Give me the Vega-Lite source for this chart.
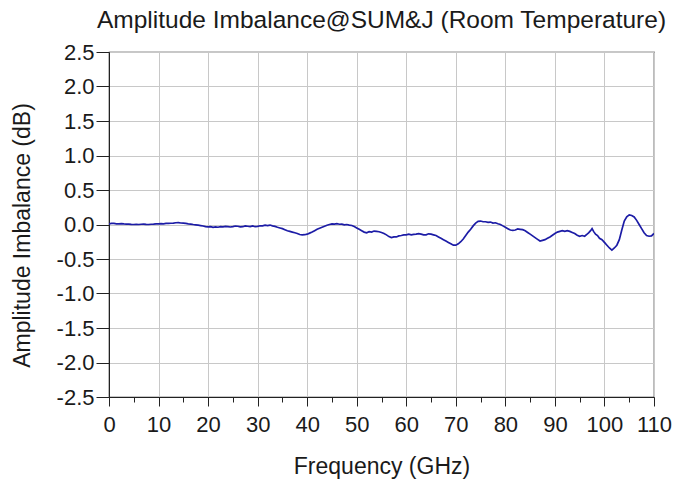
{
  "$schema": "https://vega.github.io/schema/vega-lite/v6.json",
  "autosize": "none",
  "width": 545,
  "height": 345,
  "padding": {"left": 109, "top": 52, "right": 20, "bottom": 91},
  "background": "white",
  "title": {"text": "Amplitude Imbalance@SUM&J (Room Temperature)", "font": "Liberation Sans", "fontSize": 24.5, "fontWeight": "normal", "color": "#1a1a1a", "offset": 8, "anchor": "middle"},
  "config": {
    "view": {"stroke": "#222", "strokeWidth": 1.2},
    "axis": {"labelFont": "Liberation Sans", "titleFont": "Liberation Sans", "labelColor": "#1a1a1a", "titleColor": "#1a1a1a", "titleFontWeight": "normal", "domainColor": "#222", "tickColor": "#222", "gridColor": "#c8c8c8", "gridWidth": 1}
  },
  "data": {"values": [
    {"f": 0, "v": 0.01}, {"f": 0.5, "v": 0.015}, {"f": 1, "v": 0.015}, {"f": 1.5, "v": 0.01}, {"f": 2, "v": 0.01}, {"f": 2.5, "v": 0.012}, {"f": 3, "v": 0.008}, {"f": 3.5, "v": 0.006}, {"f": 4, "v": 0.005}, {"f": 4.5, "v": 0.002},
    {"f": 5, "v": 0.0}, {"f": 5.5, "v": 0.003}, {"f": 6, "v": 0.0}, {"f": 6.5, "v": 0.004}, {"f": 7, "v": 0.005}, {"f": 7.5, "v": 0.001}, {"f": 8, "v": 0.0}, {"f": 8.5, "v": 0.004}, {"f": 9, "v": 0.005}, {"f": 9.5, "v": 0.008},
    {"f": 10, "v": 0.01}, {"f": 10.5, "v": 0.012}, {"f": 11, "v": 0.01}, {"f": 11.5, "v": 0.015}, {"f": 12, "v": 0.015}, {"f": 12.5, "v": 0.018}, {"f": 13, "v": 0.02}, {"f": 13.5, "v": 0.025}, {"f": 14, "v": 0.028}, {"f": 14.5, "v": 0.022},
    {"f": 15, "v": 0.02}, {"f": 15.5, "v": 0.015}, {"f": 16, "v": 0.01}, {"f": 16.5, "v": 0.006}, {"f": 17, "v": 0.0}, {"f": 17.5, "v": -0.005}, {"f": 18, "v": -0.01}, {"f": 18.5, "v": -0.016}, {"f": 19, "v": -0.022}, {"f": 19.5, "v": -0.03},
    {"f": 20, "v": -0.035}, {"f": 20.5, "v": -0.03}, {"f": 21, "v": -0.04}, {"f": 21.5, "v": -0.035}, {"f": 22, "v": -0.04}, {"f": 22.5, "v": -0.032}, {"f": 23, "v": -0.035}, {"f": 23.5, "v": -0.028}, {"f": 24, "v": -0.03}, {"f": 24.5, "v": -0.036},
    {"f": 25, "v": -0.03}, {"f": 25.5, "v": -0.022}, {"f": 26, "v": -0.025}, {"f": 26.5, "v": -0.035}, {"f": 27, "v": -0.032}, {"f": 27.5, "v": -0.02}, {"f": 28, "v": -0.025}, {"f": 28.5, "v": -0.03}, {"f": 29, "v": -0.02}, {"f": 29.5, "v": -0.032},
    {"f": 30, "v": -0.027}, {"f": 30.5, "v": -0.018}, {"f": 31, "v": -0.02}, {"f": 31.5, "v": -0.01}, {"f": 32, "v": -0.015}, {"f": 32.5, "v": -0.008}, {"f": 33, "v": -0.02}, {"f": 33.5, "v": -0.028}, {"f": 34, "v": -0.04}, {"f": 34.5, "v": -0.05},
    {"f": 35, "v": -0.06}, {"f": 35.5, "v": -0.075}, {"f": 36, "v": -0.09}, {"f": 36.5, "v": -0.1}, {"f": 37, "v": -0.11}, {"f": 37.5, "v": -0.12}, {"f": 38, "v": -0.13}, {"f": 38.5, "v": -0.145}, {"f": 39, "v": -0.15}, {"f": 39.5, "v": -0.148},
    {"f": 40, "v": -0.14}, {"f": 40.5, "v": -0.125}, {"f": 41, "v": -0.11}, {"f": 41.5, "v": -0.09}, {"f": 42, "v": -0.07}, {"f": 42.5, "v": -0.055}, {"f": 43, "v": -0.04}, {"f": 43.5, "v": -0.025}, {"f": 44, "v": -0.01}, {"f": 44.5, "v": 0.0},
    {"f": 45, "v": 0.01}, {"f": 45.5, "v": 0.005}, {"f": 46, "v": 0.012}, {"f": 46.5, "v": 0.004}, {"f": 47, "v": 0.006}, {"f": 47.5, "v": -0.004}, {"f": 48, "v": 0.0}, {"f": 48.5, "v": -0.008}, {"f": 49, "v": -0.015}, {"f": 49.5, "v": -0.03},
    {"f": 50, "v": -0.05}, {"f": 50.5, "v": -0.07}, {"f": 51, "v": -0.09}, {"f": 51.5, "v": -0.11}, {"f": 52, "v": -0.12}, {"f": 52.5, "v": -0.105}, {"f": 53, "v": -0.11}, {"f": 53.5, "v": -0.095}, {"f": 54, "v": -0.1}, {"f": 54.5, "v": -0.105},
    {"f": 55, "v": -0.115}, {"f": 55.5, "v": -0.13}, {"f": 56, "v": -0.15}, {"f": 56.5, "v": -0.175}, {"f": 57, "v": -0.19}, {"f": 57.5, "v": -0.18}, {"f": 58, "v": -0.18}, {"f": 58.5, "v": -0.165}, {"f": 59, "v": -0.16}, {"f": 59.5, "v": -0.15},
    {"f": 60, "v": -0.15}, {"f": 60.5, "v": -0.14}, {"f": 61, "v": -0.15}, {"f": 61.5, "v": -0.142}, {"f": 62, "v": -0.14}, {"f": 62.5, "v": -0.132}, {"f": 63, "v": -0.14}, {"f": 63.5, "v": -0.15}, {"f": 64, "v": -0.15}, {"f": 64.5, "v": -0.135},
    {"f": 65, "v": -0.14}, {"f": 65.5, "v": -0.15}, {"f": 66, "v": -0.16}, {"f": 66.5, "v": -0.18}, {"f": 67, "v": -0.2}, {"f": 67.5, "v": -0.22}, {"f": 68, "v": -0.24}, {"f": 68.5, "v": -0.26}, {"f": 69, "v": -0.28}, {"f": 69.5, "v": -0.3},
    {"f": 70, "v": -0.3}, {"f": 70.5, "v": -0.28}, {"f": 71, "v": -0.25}, {"f": 71.5, "v": -0.21}, {"f": 72, "v": -0.16}, {"f": 72.5, "v": -0.11}, {"f": 73, "v": -0.07}, {"f": 73.5, "v": -0.02}, {"f": 74, "v": 0.02}, {"f": 74.5, "v": 0.045},
    {"f": 75, "v": 0.05}, {"f": 75.5, "v": 0.04}, {"f": 76, "v": 0.04}, {"f": 76.5, "v": 0.03}, {"f": 77, "v": 0.035}, {"f": 77.5, "v": 0.02}, {"f": 78, "v": 0.025}, {"f": 78.5, "v": 0.01}, {"f": 79, "v": 0.0}, {"f": 79.5, "v": -0.02},
    {"f": 80, "v": -0.04}, {"f": 80.5, "v": -0.06}, {"f": 81, "v": -0.08}, {"f": 81.5, "v": -0.085}, {"f": 82, "v": -0.08}, {"f": 82.5, "v": -0.065}, {"f": 83, "v": -0.07}, {"f": 83.5, "v": -0.075}, {"f": 84, "v": -0.09}, {"f": 84.5, "v": -0.115},
    {"f": 85, "v": -0.14}, {"f": 85.5, "v": -0.165}, {"f": 86, "v": -0.19}, {"f": 86.5, "v": -0.215}, {"f": 87, "v": -0.24}, {"f": 87.5, "v": -0.23}, {"f": 88, "v": -0.22}, {"f": 88.5, "v": -0.2}, {"f": 89, "v": -0.18}, {"f": 89.5, "v": -0.155},
    {"f": 90, "v": -0.13}, {"f": 90.5, "v": -0.11}, {"f": 91, "v": -0.1}, {"f": 91.5, "v": -0.09}, {"f": 92, "v": -0.1}, {"f": 92.5, "v": -0.09}, {"f": 93, "v": -0.1}, {"f": 93.5, "v": -0.115}, {"f": 94, "v": -0.13}, {"f": 94.5, "v": -0.155},
    {"f": 95, "v": -0.17}, {"f": 95.5, "v": -0.16}, {"f": 96, "v": -0.17}, {"f": 96.5, "v": -0.14}, {"f": 96.8, "v": -0.12}, {"f": 97.2, "v": -0.09}, {"f": 97.5, "v": -0.06}, {"f": 97.8, "v": -0.1}, {"f": 98.2, "v": -0.14}, {"f": 98.6, "v": -0.16},
    {"f": 99, "v": -0.2}, {"f": 99.5, "v": -0.22}, {"f": 100, "v": -0.26}, {"f": 100.5, "v": -0.3}, {"f": 101, "v": -0.34}, {"f": 101.5, "v": -0.37}, {"f": 102, "v": -0.34}, {"f": 102.5, "v": -0.3}, {"f": 103, "v": -0.22}, {"f": 103.5, "v": -0.08},
    {"f": 104, "v": 0.05}, {"f": 104.5, "v": 0.11}, {"f": 105, "v": 0.14}, {"f": 105.5, "v": 0.13}, {"f": 106, "v": 0.11}, {"f": 106.5, "v": 0.06}, {"f": 107, "v": 0.0}, {"f": 107.5, "v": -0.06}, {"f": 108, "v": -0.12}, {"f": 108.5, "v": -0.16},
    {"f": 109, "v": -0.17}, {"f": 109.5, "v": -0.165}, {"f": 110, "v": -0.13}
  ]},
  "mark": {"type": "line", "color": "#1c1ca6", "strokeWidth": 1.7, "clip": true},
  "encoding": {
    "x": {"field": "f", "type": "quantitative", "scale": {"domain": [0, 110], "nice": false},
      "axis": {"title": "Frequency (GHz)", "values": [0,5,10,15,20,25,30,35,40,45,50,55,60,65,70,75,80,85,90,95,100,105,110],
        "labelExpr": "datum.value % 10 === 0 ? datum.label : ''",
        "tickSize": {"condition": {"test": "datum.value % 10 === 0", "value": 9}, "value": 5},
        "gridOpacity": {"condition": {"test": "datum.value % 10 === 0", "value": 1}, "value": 0},
        "labelFontSize": 22, "titleFontSize": 23, "labelPadding": 8, "titlePadding": 20, "labelFlush": false, "labelOverlap": false}},
    "y": {"field": "v", "type": "quantitative", "scale": {"domain": [-2.5, 2.5], "nice": false},
      "axis": {"title": "Amplitude Imbalance (dB)", "values": [-2.5,-2,-1.5,-1,-0.5,0,0.5,1,1.5,2,2.5],
        "labelExpr": "replace(format(datum.value, '.1f'), '\u2212', '-')",
        "tickSize": 13, "labelPadding": 2, "labelFontSize": 22, "titleFontSize": 23, "titlePadding": 22, "titleY": 183, "labelFlush": false, "labelOverlap": false}}
  }
}
